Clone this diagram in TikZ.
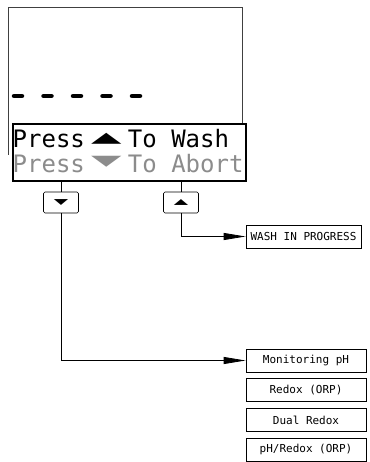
\documentclass[tikz,border=0pt]{standalone}
\usepackage{graphicx}
\usepackage{fontspec}
\setmonofont{DejaVu Sans Mono}
\newfontfamily\trifont{DejaVu Sans}
\usetikzlibrary{arrows.meta,positioning}
\definecolor{dim}{RGB}{140,140,140}
\newcommand{\bigup}{\raisebox{5pt}{\scalebox{1.65}[0.6]{\trifont ▲}}}
\newcommand{\bigdown}{\raisebox{7pt}{\scalebox{1.65}[0.6]{\trifont ▼}}}
\newcommand{\smallup}{\scalebox{1.7}[0.7]{\trifont ▲}}
\newcommand{\smalldown}{\scalebox{1.7}[0.7]{\trifont ▼}}

\begin{document}
\begin{tikzpicture}[x=1pt,y=-1pt,
  screen/.style={draw=black!75,line width=0.7pt},
  panel/.style={draw,line width=2pt,fill=white,minimum width=233pt,minimum height=57pt,inner sep=0pt},
  lcd/.style={font=\ttfamily\fontsize{24}{28}\selectfont,anchor=base west,inner sep=0pt},
  btn/.style={draw,line width=0.7pt,rounded corners=1.5pt,minimum width=35pt,minimum height=21pt,inner sep=0pt,font=\fontsize{11}{13}\selectfont},
  menubox/.style={draw,line width=0.8pt,minimum height=23pt,inner sep=0pt,font=\ttfamily\fontsize{11}{13}\selectfont},
  flow/.style={line width=0.8pt,-{Triangle[length=22pt,width=7pt]}}]
  \useasboundingbox (0,0) rectangle (369,462);
  % display window
  \draw[screen] (8,155) |- (242,7) -- (242,155);
  \foreach \x in {12,41.5,71,100.5,130} \draw[line width=4.5pt,line cap=round] (\x+2,96) -- (\x+10,96);
  \node[panel] (panel) at (129.5,153) {};
  \node[lcd] (washline) at (12.5,148) {Press\makebox[43pt]{\bigup}To Wash};
  \node[lcd,text=dim] (abortline) at (12.5,173) {Press\makebox[43pt]{\bigdown}To Abort};
  % keys
  \node[btn] (down) at (61,202.5) {\smalldown};
  \node[btn] (up) at (181,202.5) {\smallup};
  % menus
  \node[menubox,minimum width=115pt] (wash) at (303.5,236.5) {WASH IN PROGRESS};
  \node[menubox,minimum width=120pt] (mon) at (306,360.5) {Monitoring pH};
  \node[menubox,minimum width=120pt,below=6pt of mon] (redox) {Redox (ORP)};
  \node[menubox,minimum width=120pt,below=6pt of redox] (dual) {Dual Redox};
  \node[menubox,minimum width=120pt,below=6pt of dual] (phredox) {pH/Redox (ORP)};
  % connectors
  \draw[line width=0.8pt] (panel.south -| down.north) -- (down.north);
  \draw[line width=0.8pt] (panel.south -| up.north) -- (up.north);
  \draw[flow] (up.south) |- (wash.west);
  \draw[flow] (down.south) |- (mon.west);
\end{tikzpicture}
\end{document}
